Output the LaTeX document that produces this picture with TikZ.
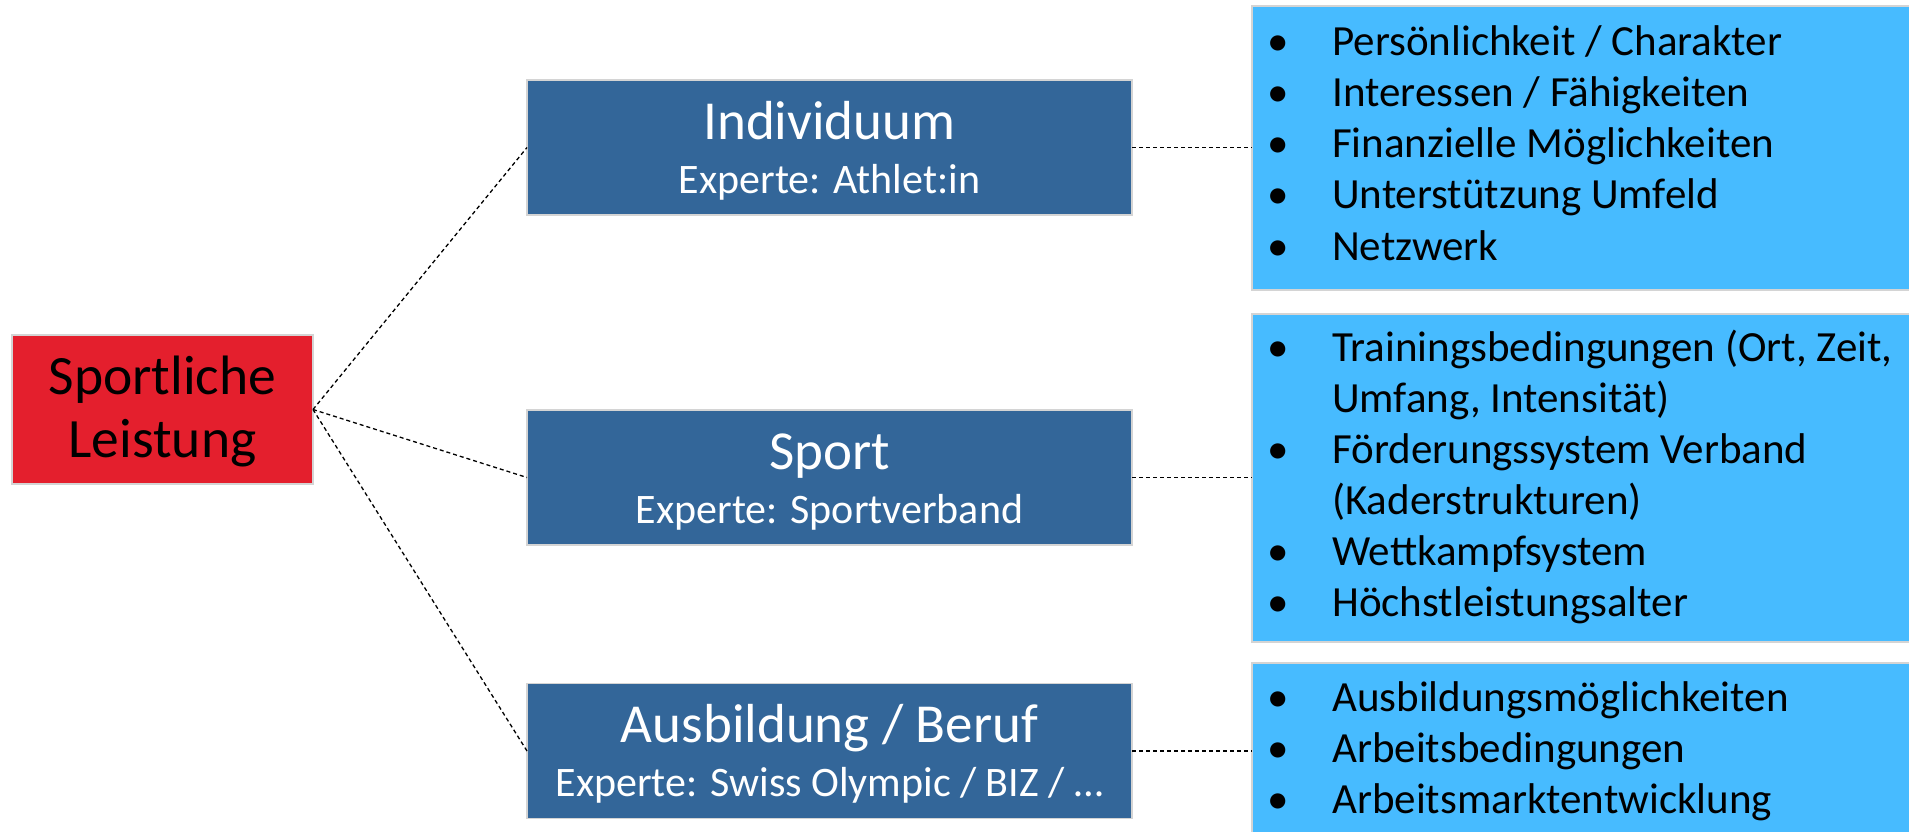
\documentclass[tikz,border=0pt]{standalone}
\usepackage{fontspec}
\setmainfont{Carlito}
\definecolor{rootred}{HTML}{E41F2D}
\definecolor{midblue}{HTML}{336699}
\definecolor{lightblue}{HTML}{47BBFF}
\definecolor{edgegray}{HTML}{D4D4D4}
\begin{document}
\begin{tikzpicture}[x=1pt,y=-1pt,
  boxshape/.style={draw=edgegray, line width=1.6pt, inner sep=0pt, outer sep=0pt, rectangle},
  rootbox/.style={boxshape, fill=rootred},
  catbox/.style={boxshape, fill=midblue, minimum width=605pt, minimum height=135pt},
  listbox/.style={boxshape, fill=lightblue},
  conn/.style={draw=black, line width=1.3pt, dash pattern=on 4pt off 3pt},
  bigtxt/.style={inner sep=0pt, anchor=base, text=white, font=\fontsize{55}{58}\selectfont},
  subtxt/.style={inner sep=0pt, anchor=base, text=white, font=\fontsize{42}{44}\selectfont},
  roottxt/.style={inner sep=0pt, anchor=base, text=black, font=\fontsize{55.5}{58}\selectfont},
  itemtxt/.style={inner sep=0pt, anchor=base west, text=black, font=\fontsize{43}{45}\selectfont},
  bullettxt/.style={inner sep=0pt, anchor=base, text=black, font=\fontsize{43}{45}\selectfont}
]
\useasboundingbox (0,0) rectangle (1909,831);
\clip (0,0) rectangle (1909,831);

% root
\node[rootbox, minimum width=301pt, minimum height=149pt] (root) at (162.5,409.5) {};
\node[roottxt] (rootA) at (162.5,394) {Sportliche};
\node[roottxt] (rootB) at (162.5,457) {Leistung};

% category boxes
\node[catbox] (ind) at (829.5,147.5) {};
\node[bigtxt] (indA) at (829.5,139) {Individuum};
\node[subtxt] (indB) at (829.5,193) {Experte: Athlet:in};

\node[catbox] (spo) at (829.5,477.5) {};
\node[bigtxt] (spoA) at (829.5,469) {Sport};
\node[subtxt] (spoB) at (829.5,523) {Experte: Sportverband};

\node[catbox] (aus) at (829.5,751) {};
\node[bigtxt] (ausA) at (829.5,742) {Ausbildung / Beruf};
\node[subtxt] (ausB) at (829.5,796) {Experte: Swiss Olympic / BIZ / \dots};

% list boxes
\node[listbox, minimum width=680pt, minimum height=284pt, anchor=north west] (lb1) at (1252,6) {};
\node[listbox, minimum width=680pt, minimum height=328pt, anchor=north west] (lb2) at (1252,314) {};
\node[listbox, minimum width=680pt, minimum height=176pt, anchor=north west] (lb3) at (1252,663) {};

% list 1
\foreach \t [count=\i] in {{Persönlichkeit / Charakter},{Interessen / Fähigkeiten},{Finanzielle Möglichkeiten},{Unterstützung Umfeld},{Netzwerk}}{
  \node[bullettxt] (b1\i) at (1278,{55+(\i-1)*51.25}) {•};
  \node[itemtxt] (t1\i) at (1332,{55+(\i-1)*51.25}) {\t};
}
% list 2
\foreach \t/\b [count=\i] in {{Trainingsbedingungen (Ort, Zeit,}/1,{Umfang, Intensität)}/0,{Förderungssystem Verband}/1,{(Kaderstrukturen)}/0,{Wettkampfsystem}/1,{Höchstleistungsalter}/1}{
  \ifnum\b=1 \node[bullettxt] (b2\i) at (1278,{361.7+(\i-1)*51}) {•};\fi
  \node[itemtxt] (t2\i) at (1332,{361.7+(\i-1)*51}) {\t};
}
% list 3
\foreach \t [count=\i] in {{Ausbildungsmöglichkeiten},{Arbeitsbedingungen},{Arbeitsmarktentwicklung}}{
  \node[bullettxt] (b3\i) at (1278,{711.7+(\i-1)*50.8}) {•};
  \node[itemtxt] (t3\i) at (1332,{711.7+(\i-1)*50.8}) {\t};
}

% connectors
\draw[conn] (root.east) -- (ind.west);
\draw[conn] (root.east) -- (spo.west);
\draw[conn] (root.east) -- (aus.west);
\draw[conn] (ind.east) -- (ind.east -| lb1.west);
\draw[conn] (spo.east) -- (spo.east -| lb2.west);
\draw[conn] (aus.east) -- (aus.east -| lb3.west);
\end{tikzpicture}
\end{document}
